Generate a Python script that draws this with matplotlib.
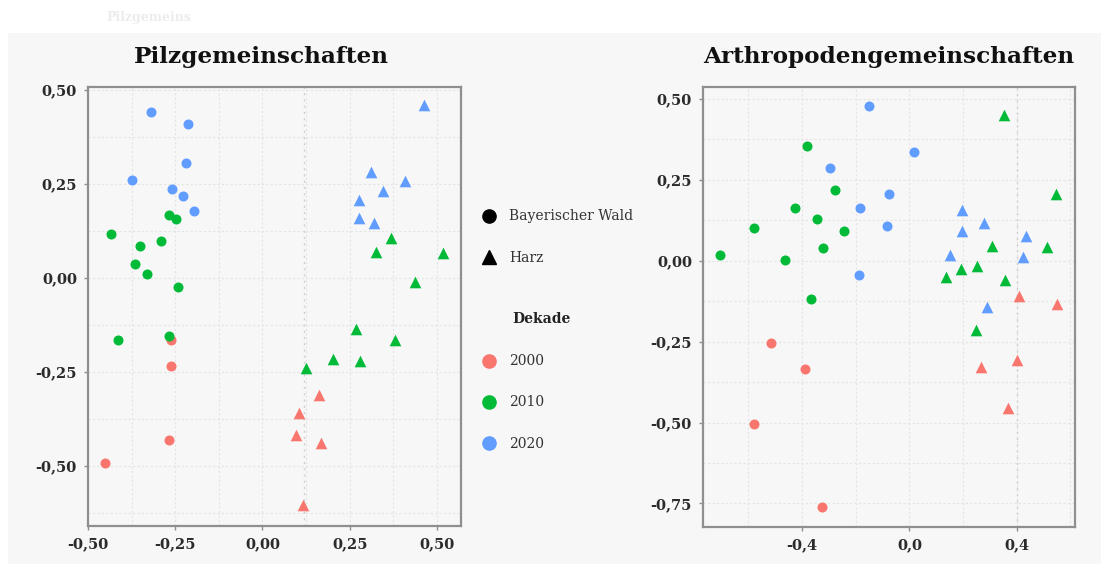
import matplotlib
matplotlib.use("Agg")
import matplotlib.pyplot as plt
from matplotlib.lines import Line2D
from matplotlib.patches import Rectangle
from matplotlib.ticker import FuncFormatter, FixedLocator

# ---------------- data ----------------
decades = ["2000", "2010", "2020"]
sites = ["Bayerischer Wald", "Harz"]
colors = {"2000": "#F8766D", "2010": "#00BA38", "2020": "#619CFF"}
markers = {"Bayerischer Wald": "o", "Harz": "^"}

# Pilzgemeinschaften (x, y) per site/decade
pilz_bw_2000_x = [-0.263, -0.263, -0.269, -0.451]
pilz_bw_2000_y = [-0.165, -0.234, -0.431, -0.493]
pilz_bw_2010_x = [-0.267, -0.249, -0.435, -0.352, -0.290, -0.366, -0.330, -0.242, -0.415, -0.269]
pilz_bw_2010_y = [0.168, 0.156, 0.116, 0.085, 0.098, 0.036, 0.011, -0.023, -0.166, -0.154]
pilz_bw_2020_x = [-0.320, -0.213, -0.220, -0.375, -0.260, -0.227, -0.196]
pilz_bw_2020_y = [0.441, 0.410, 0.307, 0.261, 0.237, 0.219, 0.179]
pilz_hz_2000_x = [0.163, 0.104, 0.096, 0.167, 0.117]
pilz_hz_2000_y = [-0.311, -0.360, -0.418, -0.438, -0.604]
pilz_hz_2010_x = [0.367, 0.325, 0.518, 0.438, 0.267, 0.380, 0.203, 0.279, 0.126]
pilz_hz_2010_y = [0.107, 0.070, 0.066, -0.012, -0.137, -0.165, -0.216, -0.221, -0.239]
pilz_hz_2020_x = [0.463, 0.310, 0.408, 0.346, 0.277, 0.277, 0.320]
pilz_hz_2020_y = [0.460, 0.281, 0.258, 0.231, 0.207, 0.159, 0.146]

# Arthropodengemeinschaften
arth_bw_2000_x = [-0.516, -0.388, -0.580, -0.324]
arth_bw_2000_y = [-0.253, -0.336, -0.505, -0.760]
arth_bw_2010_x = [-0.380, -0.276, -0.428, -0.346, -0.580, -0.242, -0.321, -0.706, -0.462, -0.367]
arth_bw_2010_y = [0.355, 0.219, 0.164, 0.130, 0.101, 0.091, 0.038, 0.017, 0.001, -0.117]
arth_bw_2020_x = [-0.149, 0.017, -0.295, -0.076, -0.183, -0.082, -0.188]
arth_bw_2020_y = [0.477, 0.335, 0.286, 0.207, 0.164, 0.107, -0.045]
arth_hz_2000_x = [0.408, 0.550, 0.400, 0.268, 0.368]
arth_hz_2000_y = [-0.109, -0.135, -0.308, -0.329, -0.455]
arth_hz_2010_x = [0.352, 0.545, 0.514, 0.309, 0.253, 0.191, 0.137, 0.356, 0.247]
arth_hz_2010_y = [0.452, 0.205, 0.042, 0.046, -0.017, -0.024, -0.049, -0.061, -0.213]
arth_hz_2020_x = [0.196, 0.196, 0.278, 0.433, 0.151, 0.424, 0.290]
arth_hz_2020_y = [0.158, 0.092, 0.116, 0.075, 0.018, 0.012, -0.143]

titles = ["Pilzgemeinschaften", "Arthropodengemeinschaften"]
pilz_xticks = [-0.50, -0.25, 0.00, 0.25, 0.50]
pilz_yticks = [-0.50, -0.25, 0.00, 0.25, 0.50]
arth_xticks = [-0.4, 0.0, 0.4]
arth_yticks = [-0.75, -0.50, -0.25, 0.00, 0.25, 0.50]
pilz_refline = 0.12
arth_refline = 0.40

pilz = {
    ("Bayerischer Wald", "2000"): (pilz_bw_2000_x, pilz_bw_2000_y),
    ("Bayerischer Wald", "2010"): (pilz_bw_2010_x, pilz_bw_2010_y),
    ("Bayerischer Wald", "2020"): (pilz_bw_2020_x, pilz_bw_2020_y),
    ("Harz", "2000"): (pilz_hz_2000_x, pilz_hz_2000_y),
    ("Harz", "2010"): (pilz_hz_2010_x, pilz_hz_2010_y),
    ("Harz", "2020"): (pilz_hz_2020_x, pilz_hz_2020_y),
}
arth = {
    ("Bayerischer Wald", "2000"): (arth_bw_2000_x, arth_bw_2000_y),
    ("Bayerischer Wald", "2010"): (arth_bw_2010_x, arth_bw_2010_y),
    ("Bayerischer Wald", "2020"): (arth_bw_2020_x, arth_bw_2020_y),
    ("Harz", "2000"): (arth_hz_2000_x, arth_hz_2000_y),
    ("Harz", "2010"): (arth_hz_2010_x, arth_hz_2010_y),
    ("Harz", "2020"): (arth_hz_2020_x, arth_hz_2020_y),
}

# ---------------- figure ----------------
W, H = 1101, 564
FONT = "DejaVu Serif"
plt.rcParams["font.family"] = FONT
fig = plt.figure(figsize=(W / 100, H / 100), dpi=100, facecolor="white")
fig.patches.append(Rectangle((8 / W, 0), 1 - 8 / W, 1 - 33 / H, transform=fig.transFigure,
                             facecolor="#f7f7f7", edgecolor="none", zorder=-10))

fig.text(106 / W, 1 - 18 / H, "Pilzgemeins", color="#ececec", fontsize=9,
         fontweight="bold", va="center", ha="left")


def px_rect(x0, y0, x1, y1):
    return [x0 / W, 1 - y1 / H, (x1 - x0) / W, (y1 - y0) / H]


def fmt(dec):
    return FuncFormatter(lambda v, p: (f"{v:.{dec}f}").replace(".", ",").replace("-0,00", "0,00"))


def style(ax, xlim, ylim, xticks, yticks, xdec, xminor, yminor, refx):
    ax.set_facecolor("#f7f7f7")
    ax.set_xlim(*xlim)
    ax.set_ylim(*ylim)
    ax.xaxis.set_major_locator(FixedLocator(xticks))
    ax.yaxis.set_major_locator(FixedLocator(yticks))
    ax.xaxis.set_minor_locator(FixedLocator(xminor))
    ax.yaxis.set_minor_locator(FixedLocator(yminor))
    ax.xaxis.set_major_formatter(fmt(xdec))
    ax.yaxis.set_major_formatter(fmt(2))
    ax.grid(True, which="both", color="#e4e4e4", linewidth=0.8, linestyle=(0, (2, 2)))
    ax.axvline(refx, color="#cfcfcf", linewidth=1.0, linestyle=(0, (1.5, 3)), zorder=1)
    for s in ax.spines.values():
        s.set_color("#8f8f8f")
        s.set_linewidth(1.6)
    ax.tick_params(which="major", length=3, width=1, color="#8f8f8f", labelsize=10.5,
                   labelcolor="#2b2b2b", pad=5)
    ax.tick_params(which="minor", length=0)
    for lab in ax.get_xticklabels() + ax.get_yticklabels():
        lab.set_fontweight("semibold")
    ax.set_axisbelow(True)


ax1 = fig.add_axes(px_rect(88, 87, 461, 526))
ax2 = fig.add_axes(px_rect(703, 87, 1075, 527))

for ax, data in ((ax1, pilz), (ax2, arth)):
    for (site, dec), (xs, ys) in data.items():
        ax.scatter(xs, ys, marker=markers[site], color=colors[dec],
                   s=52 if markers[site] == "o" else 70, linewidths=0, zorder=3)

style(ax1, (-0.5, 0.569), (-0.66, 0.508), pilz_xticks, pilz_yticks, 2,
      [-0.375, -0.125, 0.125, 0.375], [-0.625, -0.375, -0.125, 0.125, 0.375], pilz_refline)
style(ax2, (-0.769, 0.617), (-0.823, 0.537), arth_xticks, arth_yticks, 1,
      [-0.6, -0.2, 0.2, 0.6], [-0.625, -0.375, -0.125, 0.125, 0.375], arth_refline)

ax1.set_title(titles[0], fontsize=16.7, fontweight="bold", color="#111111", pad=17, x=0.466)
ax2.set_title(titles[1], fontsize=16.7, fontweight="bold", color="#111111", pad=17)

# ---------------- legends ----------------
shape_handles = [Line2D([], [], marker=markers[s], color="black", linestyle="none",
                        markersize=9.5 if markers[s] == "o" else 10.5) for s in sites]
leg1 = fig.legend(shape_handles, sites, loc="center left",
                  bbox_to_anchor=(481 / W, 1 - 237 / H), frameon=False,
                  fontsize=10, handlelength=1.1, handletextpad=0.95,
                  labelspacing=1.95, borderpad=0, borderaxespad=0,
                  labelcolor="#333333")
dec_handles = [Line2D([], [], marker="o", color=colors[d], linestyle="none", markersize=9.5)
               for d in decades]
leg2 = fig.legend(dec_handles, decades, loc="center left",
                  bbox_to_anchor=(481 / W, 1 - 402.5 / H), frameon=False,
                  fontsize=10, handlelength=1.1, handletextpad=0.95,
                  labelspacing=1.95, borderpad=0, borderaxespad=0,
                  labelcolor="#333333")
fig.text(512 / W, 1 - 319 / H, "Dekade", fontsize=10, fontweight="bold",
         color="#222222", va="center", ha="left")

fig.savefig("out.png", dpi=100, facecolor="white")
